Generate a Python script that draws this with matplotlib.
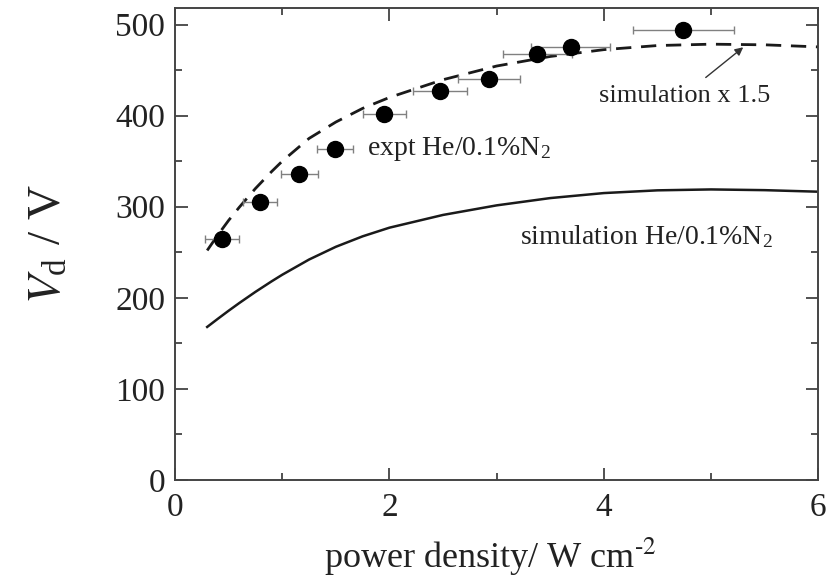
import matplotlib
matplotlib.use("Agg")
import matplotlib.pyplot as plt
from matplotlib.ticker import MultipleLocator

plt.rcParams['font.family'] = ['Liberation Serif', 'DejaVu Serif']
plt.rcParams['mathtext.fontset'] = 'stix'

# experimental data
expt_x = [0.44, 0.79, 1.16, 1.49, 1.95, 2.47, 2.93, 3.38, 3.69, 4.74]
expt_y = [265, 305, 336, 363, 402, 427, 440, 468, 475, 494]
expt_xerr = [0.16, 0.16, 0.17, 0.17, 0.20, 0.25, 0.29, 0.32, 0.37, 0.47]

# simulation curve
sim_x = [0.3, 0.4, 0.5, 0.6, 0.75, 0.9, 1.0, 1.25, 1.5, 1.75, 2.0, 2.5, 3.0,
         3.5, 4.0, 4.5, 5.0, 5.5, 6.0]
sim_y = [168, 177, 185.8, 194.3, 206.5, 218, 225.3, 242, 256, 267.5, 277,
         291, 301.5, 309.5, 315, 318, 319, 318.2, 316.5]
# simulation x 1.5
sim15_x = sim_x
sim15_y = [252, 269, 285, 299.5, 320, 338.5, 350, 375, 393, 408, 420, 439.5,
           454.5, 465, 472.5, 477, 478.5, 477.8, 475.5]

fig = plt.figure(figsize=(8.35, 5.86), dpi=100)
ax = fig.add_axes([0.2096, 0.181, 0.7704, 0.805])

ax.plot(sim_x, sim_y, color='#1a1a1a', lw=1.8)
ax.plot(sim15_x, sim15_y, color='#1a1a1a', lw=2.0, ls=(0, (5.5, 3.5)))
ax.errorbar(expt_x, expt_y, xerr=expt_xerr, fmt='o', color='black',
            markersize=11.5, ecolor='#808080', elinewidth=1.0, capsize=3,
            capthick=1.0, zorder=3)

ax.set_xlim(0, 6)
ax.set_ylim(0, 518)
ax.xaxis.set_major_locator(MultipleLocator(2))
ax.xaxis.set_minor_locator(MultipleLocator(1))
ax.yaxis.set_major_locator(MultipleLocator(100))
ax.yaxis.set_minor_locator(MultipleLocator(50))
ax.tick_params(which='both', direction='in', top=True, right=True,
               colors='#333333', labelcolor='#222222', width=1.2)
ax.tick_params(which='major', length=9, labelsize=24)
ax.tick_params(axis='x', which='major', pad=9)
ax.tick_params(axis='y', which='major', pad=7)
ax.tick_params(which='minor', length=5)
for s in ax.spines.values():
    s.set_color('#444444')
    s.set_linewidth(1.4)

ax.set_xlabel('power density/ W cm$^{\\text{-2}}$', fontsize=26,
              color='#222222')
ax.xaxis.set_label_coords(0.49, -0.118)
ax.set_ylabel('$V_{\\mathregular{d}}$ / V', fontsize=34, color='#222222')
ax.yaxis.set_label_coords(-0.162, 0.5)

ax.text(1.79, 363, 'expt He/0.1%N$_{\\mathregular{2}}$', fontsize=20,
        color='#222222', va='center')
ax.text(3.22, 267, 'simulation He/0.1%N$_{\\mathregular{2}}$', fontsize=20,
        color='#222222', va='center')
ax.text(3.95, 422, 'simulation x 1.5', fontsize=19, color='#222222',
        va='center')
ax.annotate('', xy=(5.32, 477), xytext=(4.93, 440),
            arrowprops=dict(arrowstyle='-|>', color='#333333', lw=1.0,
                            mutation_scale=12))

fig.savefig('out.png', dpi=100)
